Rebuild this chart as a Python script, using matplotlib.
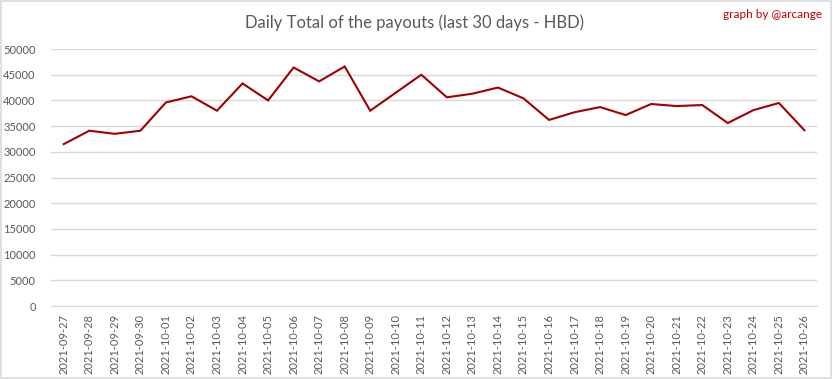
import matplotlib
matplotlib.use("Agg")
import matplotlib.pyplot as plt
from matplotlib.patches import Rectangle

dates = ["2021-09-27", "2021-09-28", "2021-09-29", "2021-09-30", "2021-10-01",
         "2021-10-02", "2021-10-03", "2021-10-04", "2021-10-05", "2021-10-06",
         "2021-10-07", "2021-10-08", "2021-10-09", "2021-10-10", "2021-10-11",
         "2021-10-12", "2021-10-13", "2021-10-14", "2021-10-15", "2021-10-16",
         "2021-10-17", "2021-10-18", "2021-10-19", "2021-10-20", "2021-10-21",
         "2021-10-22", "2021-10-23", "2021-10-24", "2021-10-25", "2021-10-26"]
payouts = [31500, 34100, 33500, 34100, 39600, 40800, 38000, 43300, 40000, 46400,
           43700, 46600, 38000, 41500, 45000, 40600, 41300, 42500, 40400, 36200,
           37700, 38700, 37150, 39300, 38900, 39100, 35600, 38100, 39500, 34200]
yticks = list(range(0, 50001, 5000))

plt.rcParams['font.family'] = ['Lato', 'DejaVu Sans']

fig = plt.figure(figsize=(8.33, 3.79), dpi=100)
ax = fig.add_axes([0.0612, 0.1926, 0.9198, 0.6781])

x = list(range(len(dates)))
ax.plot(x, payouts, color='#a00000', linewidth=1.5, solid_joinstyle='miter')

ax.set_xlim(-0.5, len(dates) - 0.5)
ax.set_ylim(0, 50000)
ax.set_yticks(yticks)
ax.set_yticklabels([str(v) for v in yticks])
ax.set_xticks(x)
ax.set_xticklabels(dates, rotation=90)
ax.grid(axis='y', color='#d9d9d9', linewidth=1)
ax.set_axisbelow(True)
for s in ['top', 'right', 'left']:
    ax.spines[s].set_visible(False)
ax.spines['bottom'].set_color('#d9d9d9')
ax.tick_params(axis='both', length=0, labelsize=8, colors='#595959')
ax.tick_params(axis='y', pad=11)
ax.tick_params(axis='x', pad=6)

fig.text(0.498, 0.94, "Daily Total of the payouts (last 30 days - HBD)",
         ha='center', va='center', fontsize=12, color='#595959')
fig.text(0.987, 0.963, "graph by @arcange", ha='right', va='center',
         fontsize=8.5, color='#c00000')

fig.patches.append(Rectangle((0.001, 0.002), 0.997, 0.995, transform=fig.transFigure,
                             fill=False, edgecolor='#d9d9d9', linewidth=1.2))

fig.savefig("out.png", dpi=100)
